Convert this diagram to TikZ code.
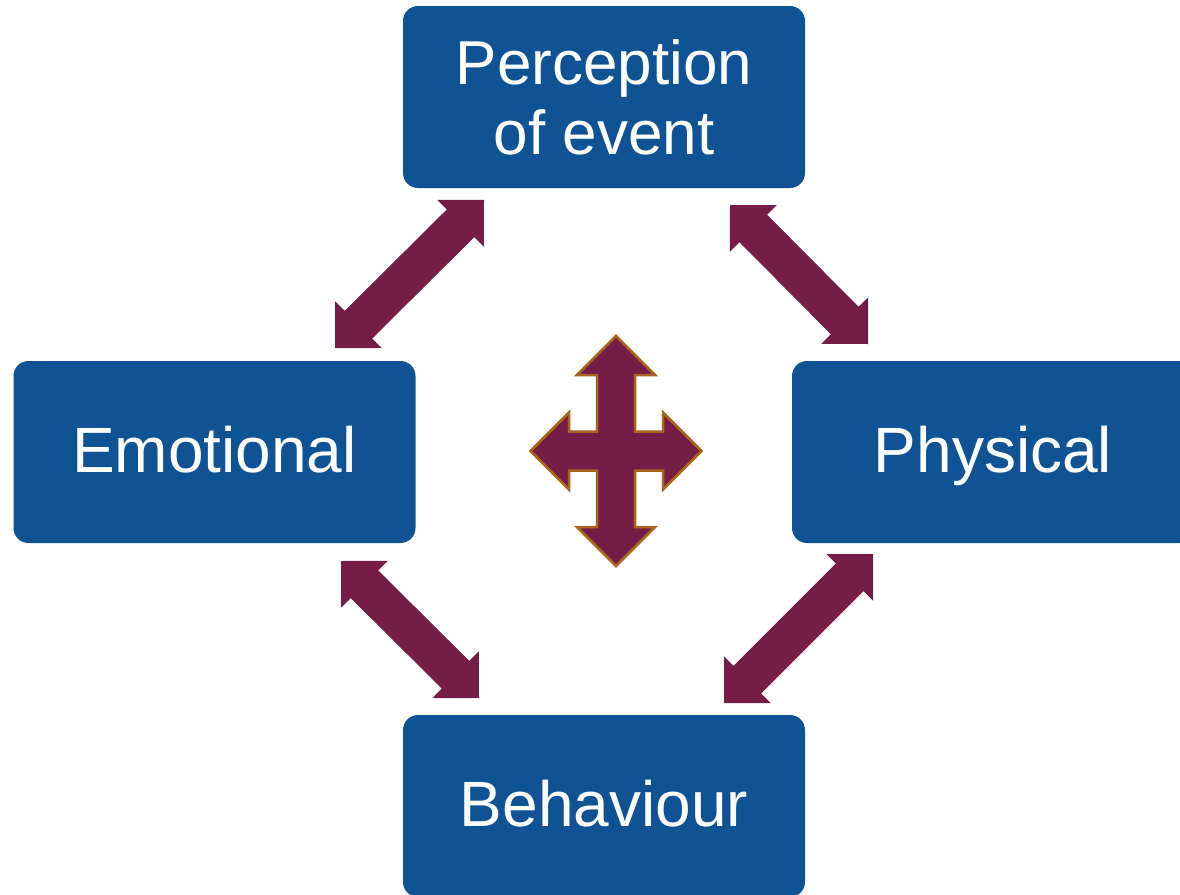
\documentclass[tikz,border=0pt]{standalone}
\usepackage{fontspec}
\setmainfont{Liberation Sans}
\usetikzlibrary{calc}

\definecolor{boxblue}{HTML}{0F5394}
\definecolor{maroon}{HTML}{751C47}
\definecolor{rim}{HTML}{A8641E}

% Double-headed block arrow between two named points (tip to tip)
\newcommand\dblblockarrow[2]{%
  \path ($(#1)!33pt!(#2)$) coordinate (ha) ($(#2)!33pt!(#1)$) coordinate (hb);
  \fill[blockarrow] (#1)
    -- ($(ha)!33pt!90:(#2)$) -- ($(ha)!19.5pt!90:(#2)$)
    -- ($(hb)!19.5pt!-90:(#1)$) -- ($(hb)!33pt!-90:(#1)$)
    -- (#2)
    -- ($(hb)!33pt!90:(#1)$) -- ($(hb)!19.5pt!90:(#1)$)
    -- ($(ha)!19.5pt!-90:(#2)$) -- ($(ha)!33pt!-90:(#2)$)
    -- cycle;}

\begin{document}
\begin{tikzpicture}[x=1pt, y=-1pt,
  stage/.style={fill=boxblue, rounded corners=15pt, minimum width=402pt,
    minimum height=182pt, inner sep=0pt, text=white,
    font=\fontsize{64}{72}\selectfont, text height=40pt, text depth=0pt},
  blockarrow/.style={fill=maroon},
  crossarrow/.style={fill=maroon, draw=rim, line width=2.5pt, line join=miter}]
  \useasboundingbox (0,0) rectangle (1180,894);

  % the four stages
  \node[stage, font=\fontsize{62}{70}\selectfont, text height=, text depth=,
        align=center] (perc) at (604,97) {Perception\\of event};
  \node[stage] (emo) at (214.5,452) {Emotional};
  \node[stage] (phys) at (993,452) {Physical};
  \node[stage] (beh) at (604,806) {Behaviour};

  % tips of the linking arrows
  \coordinate (tl1) at (335,348);  \coordinate (tl2) at (484,200);
  \coordinate (tr1) at (730,205);  \coordinate (tr2) at (868,344);
  \coordinate (bl1) at (341,561);  \coordinate (bl2) at (479,698);
  \coordinate (br1) at (873,554);  \coordinate (br2) at (724,703);

  \dblblockarrow{tl1}{tl2}
  \dblblockarrow{tr1}{tr2}
  \dblblockarrow{bl1}{bl2}
  \dblblockarrow{br1}{br2}

  % four-way arrow in the middle
  \coordinate (mid) at (616,451);
  \draw[crossarrow, shift={(mid)}]
    (0,-115) -- (39,-76) -- (19,-76) -- (19,-19.5) -- (47,-19.5) -- (47,-38.5)
    -- (85.5,0) -- (47,38.5) -- (47,19.5) -- (19,19.5) -- (19,76) -- (39,76)
    -- (0,115) -- (-39,76) -- (-19,76) -- (-19,19.5) -- (-47,19.5) -- (-47,38.5)
    -- (-85.5,0) -- (-47,-38.5) -- (-47,-19.5) -- (-19,-19.5) -- (-19,-76)
    -- (-39,-76) -- cycle;
\end{tikzpicture}
\end{document}
